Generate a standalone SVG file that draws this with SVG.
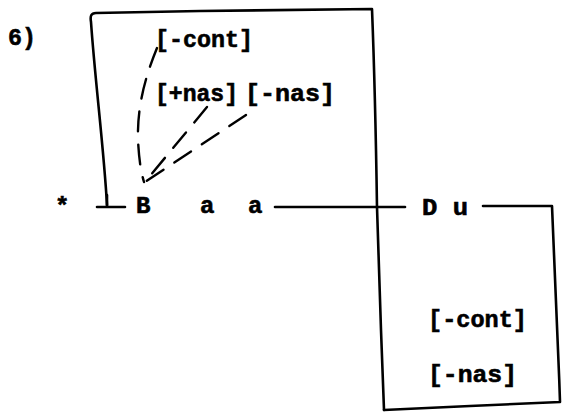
<svg xmlns="http://www.w3.org/2000/svg" width="562" height="413" viewBox="0 0 562 413">
<style>
.t{font-family:"Liberation Mono","DejaVu Sans Mono",monospace;font-weight:bold;font-size:24px;fill:#000;stroke:#000;stroke-width:0.6}
.ln{fill:none;stroke:#000;stroke-width:2.6;stroke-linecap:round;stroke-linejoin:round}
.ds{fill:none;stroke:#000;stroke-width:2.4;stroke-linecap:round;stroke-dasharray:20 13}
</style>
<rect width="562" height="413" fill="#fff"/>
<text class="t" x="8" y="45" textLength="28" lengthAdjust="spacingAndGlyphs">6)</text>
<g id="upper-box">
<path class="ln" d="M107,205 C104,150 95,80 91,22 C90,16 91,13 96,13 L200,11 L372,9 C374,60 376,140 377,207 L381,330 L384,410"/>
</g>
<g id="lower-box">
<path class="ln" d="M483,206 L552,206 C555,280 558,340 560,402 L470,406 L384,410"/>
</g>
<g id="row">
<text class="t" x="55" y="214" font-size="18">*</text>
<path class="ln" d="M107,195 L107,207 M97,207 L125,207"/>
<text class="t" x="136" y="213" font-size="23">B</text>
<text class="t" x="200" y="213" font-size="23">a</text>
<text class="t" x="248" y="213" font-size="23">a</text>
<path class="ln" d="M275,207 L405,207"/>
<text class="t" x="422" y="215" font-size="23" textLength="46" lengthAdjust="spacingAndGlyphs">D u</text>
</g>
<g id="upper-features">
<text class="t" x="155" y="47" textLength="98" lengthAdjust="spacingAndGlyphs">[-cont]</text>
<text class="t" x="155" y="101" textLength="83" lengthAdjust="spacingAndGlyphs">[+nas]</text>
<text class="t" x="245" y="101" textLength="90" lengthAdjust="spacingAndGlyphs">[-nas]</text>
</g>
<g id="lower-features">
<text class="t" x="428" y="327" textLength="99" lengthAdjust="spacingAndGlyphs">[-cont]</text>
<text class="t" x="428" y="382" textLength="89" lengthAdjust="spacingAndGlyphs">[-nas]</text>
</g>
<g id="connectors">
<path class="ds" d="M157,48 C146,75 137,105 138,140 C139,160 141,172 144,182"/>
<path class="ds" d="M207,107 L145,182"/>
<path class="ds" d="M246,115 L145,182"/>
</g>
</svg>
